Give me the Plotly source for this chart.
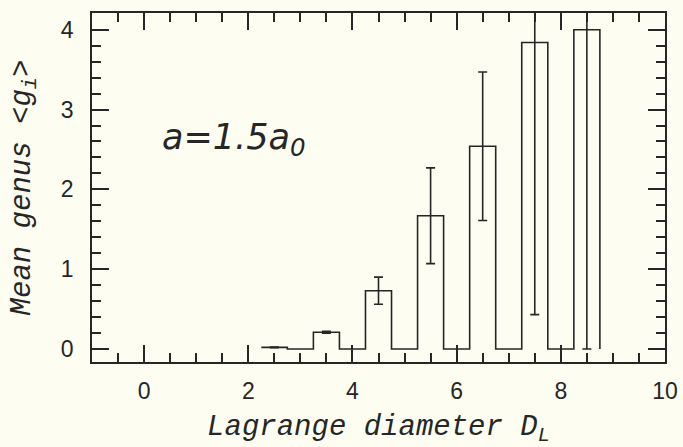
import plotly.graph_objects as go

# Histogram bins (bin centres, width 0.5) and mean genus values
bin_centers = [2.5, 3.0, 3.5, 4.0, 4.5, 5.0, 5.5, 6.0, 6.5, 7.0, 7.5, 8.0, 8.5]
mean_genus = [0.02, 0.0, 0.21, 0.0, 0.73, 0.0, 1.67, 0.0, 2.54, 0.0, 3.84, 0.0, 4.00]
bin_width = 0.5

# Error bars at the populated bins
err_x = [2.5, 3.5, 4.5, 5.5, 6.5, 7.5, 8.5]
err_y = [0.02, 0.21, 0.73, 1.67, 2.54, 3.84, 4.00]
err_size = [0.005, 0.012, 0.17, 0.60, 0.93, 3.41, 4.00]

x_ticks = [0, 2, 4, 6, 8, 10]
y_ticks = [0, 1, 2, 3, 4]
x_range = [-1, 10]
y_range = [-0.163, 4.21]

ink = "#262626"
bg = "#fdfdf1"

# step outline: left edges + final right edge, then drop to zero
edges = [c - bin_width / 2 for c in bin_centers]
step_x = edges + [bin_centers[-1] + bin_width / 2, bin_centers[-1] + bin_width / 2]
step_y = mean_genus + [mean_genus[-1], 0.0]

fig = go.Figure()
fig.add_trace(go.Scatter(
    x=step_x, y=step_y, mode="lines", line=dict(shape="hv", color=ink, width=1.6),
    hoverinfo="skip", showlegend=False,
))
fig.add_trace(go.Scatter(
    x=err_x, y=err_y, mode="markers", marker=dict(size=1, color=ink, opacity=0),
    error_y=dict(type="data", array=err_size, visible=True, color=ink, thickness=1.6, width=4.5),
    showlegend=False, hoverinfo="skip",
))
# invisible trace to anchor the mirrored (top/right) tick axes
fig.add_trace(go.Scatter(
    x=[x_range[0]], y=[y_range[0]], xaxis="x2", yaxis="y2", mode="lines",
    line=dict(width=0), showlegend=False, hoverinfo="skip",
))

tickfont = dict(family="Liberation Sans", size=23, color=ink)
titlefont = dict(family="Liberation Mono", size=29, color=ink, style="italic")

common_x = dict(
    range=x_range, tickvals=x_ticks, automargin=False,
    ticks="inside", ticklen=17, tickwidth=1.5, tickcolor=ink,
    minor=dict(dtick=0.5, tick0=0, ticks="inside", ticklen=9, tickwidth=1.5, tickcolor=ink),
    showline=True, linecolor=ink, linewidth=1.6, showgrid=False, zeroline=False,
)
common_y = dict(
    range=y_range, tickvals=y_ticks, automargin=False,
    ticks="inside", ticklen=17, tickwidth=1.5, tickcolor=ink,
    minor=dict(dtick=0.2, tick0=0, ticks="inside", ticklen=9, tickwidth=1.5, tickcolor=ink),
    showline=True, linecolor=ink, linewidth=1.6, showgrid=False, zeroline=False,
)

fig.update_layout(
    xaxis=dict(
        **common_x, ticktext=[str(v) for v in x_ticks], tickfont=tickfont,
        title=dict(text="Lagrange diameter D<sub>L</sub>", font=titlefont, standoff=16),
        ticklabelstandoff=8,
    ),
    yaxis=dict(
        **common_y, ticktext=[str(v) for v in y_ticks], tickfont=tickfont,
        title=dict(text="Mean genus &lt;g<sub>i</sub>&gt;", font=titlefont, standoff=22),
        ticklabelstandoff=12,
    ),
    xaxis2=dict(**common_x, overlaying="x", side="top", anchor="y2", showticklabels=False),
    yaxis2=dict(**common_y, overlaying="y", side="right", anchor="x2", showticklabels=False),
)

fig.add_annotation(
    x=0.3, y=2.62, xref="x", yref="y", xanchor="left", yanchor="middle",
    text="a=1.5a<sub>0</sub>", showarrow=False,
    font=dict(family="DejaVu Sans", size=35, color=ink, style="italic"),
)

fig.update_layout(
    width=683, height=447,
    margin=dict(l=92, r=18, t=13, b=85, autoexpand=False),
    paper_bgcolor=bg, plot_bgcolor=bg,
)

fig.write_html("out.html")
